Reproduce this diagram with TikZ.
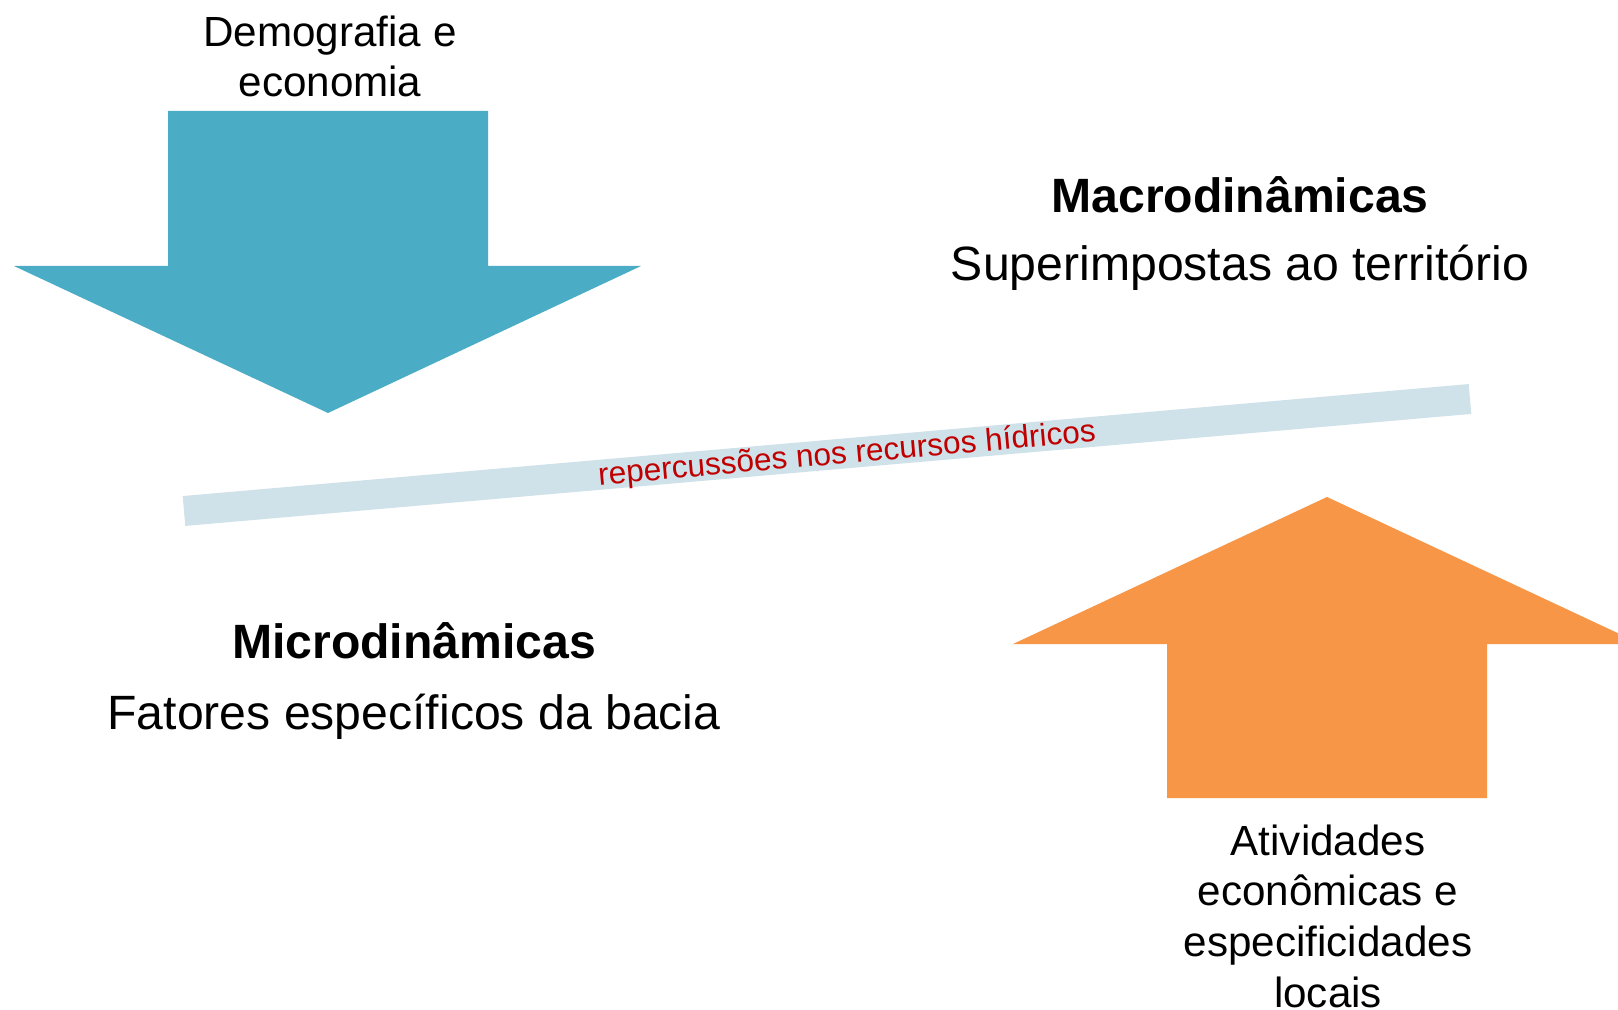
\documentclass[tikz,border=0pt]{standalone}
\usepackage{fontspec}
\setmainfont{Liberation Sans}
\definecolor{arrowblue}{HTML}{4BACC6}
\definecolor{arroworange}{HTML}{F79646}
\definecolor{bandblue}{HTML}{D0E2E9}
\definecolor{labelred}{HTML}{C00000}
\tikzset{
  lbl/.style={inner sep=0pt, anchor=base, align=center, font=\fontsize{12pt}{14.4pt}\selectfont},
  title/.style={inner sep=0pt, anchor=base, font=\fontsize{13.7pt}{16.4pt}\selectfont\bfseries},
  sub/.style={inner sep=0pt, anchor=base, font=\fontsize{13.7pt}{16.4pt}\selectfont},
  bandlbl/.style={inner sep=0pt, text=labelred, font=\fontsize{9pt}{10.8pt}\selectfont, rotate=5},
}
\begin{document}
\begin{tikzpicture}[x=0.1mm,y=-0.1mm]
\clip (0,0) rectangle (1618,1010);
\fill[white] (0,0) rectangle (1618,1010);
% blue arrow (down)
\fill[arrowblue] (168,111) -- (488,111) -- (488,266) -- (641,266) -- (328,413) -- (14,266) -- (168,266) -- cycle;
% orange arrow (up)
\fill[arroworange] (1167,798) -- (1487,798) -- (1487,644) -- (1641,644) -- (1327,497) -- (1013,644) -- (1167,644) -- cycle;
% band
\coordinate (bandL) at (184,511);
\coordinate (bandR) at (1470,399);
\draw[bandblue, line width=3mm] (bandL) -- (bandR);
\node[bandlbl] (rep) at (847,455) {repercussões nos recursos hídricos};
% texts
\node[lbl] (demo) at (330,97) {Demografia e\\economia};
\node[title] (macro) at (1240,213) {Macrodinâmicas};
\node[sub] (macrosub) at (1240,281) {Superimpostas ao território};
\node[title] (micro) at (414,658) {Microdinâmicas};
\node[sub] (microsub) at (414,729) {Fatores específicos da bacia};
\node[lbl] (ativ) at (1328,1007) {Atividades\\econômicas e\\especificidades\\locais};
\end{tikzpicture}
\end{document}
